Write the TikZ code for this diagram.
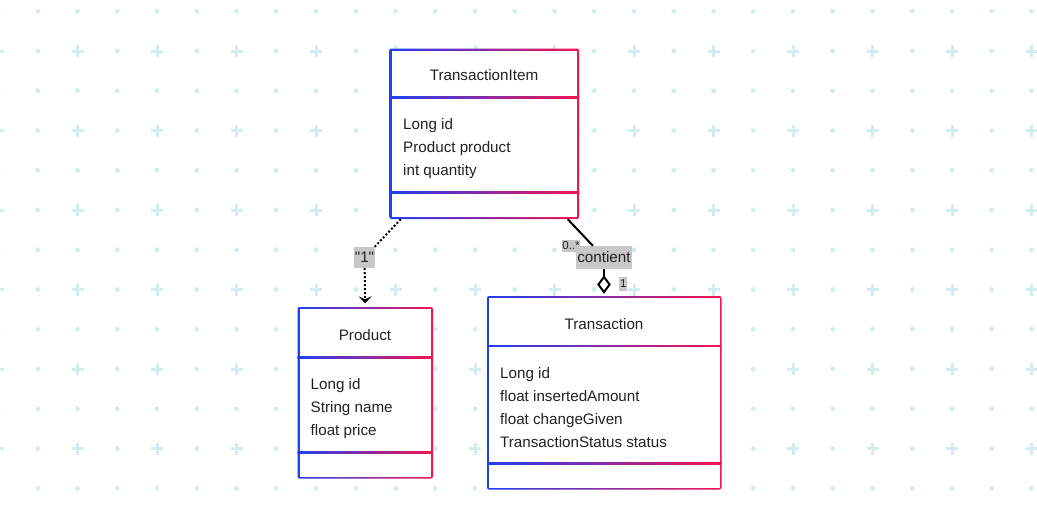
\documentclass[tikz,border=0pt]{standalone}
\usepackage{fontspec}
\setmainfont[Ligatures=TeXOff]{Liberation Sans}
\usetikzlibrary{arrows.meta,shapes.geometric,fit}
\definecolor{gb}{RGB}{30,64,245}
\definecolor{gr}{RGB}{245,20,80}
\definecolor{gridc}{RGB}{212,236,240}
\definecolor{txt}{RGB}{34,34,34}
\definecolor{lbl}{RGB}{200,200,200}
\tikzset{
  boxframe/.style={inner sep=0pt},
  titletext/.style={anchor=base,font=\fontsize{15.2}{18}\selectfont,text=txt,inner sep=0pt},
  attrtext/.style={anchor=base west,font=\fontsize{15.2}{18}\selectfont,text=txt,inner sep=0pt},
  edgelabel/.style={fill=lbl,text=txt,font=\fontsize{15.2}{18}\selectfont,inner xsep=1pt,inner ysep=0pt,minimum height=21pt},
  smalllabel/.style={fill=lbl,text=txt,font=\fontsize{11.5}{13}\selectfont,inner xsep=0.8pt,inner ysep=0pt,minimum height=12pt},
  depline/.style={line width=2pt,dash pattern=on 2pt off 2pt,draw=black},
  assocline/.style={line width=2pt,draw=black},
}
% #1 name, #2 x1, #3 y1, #4 x2, #5 y2, #6 divider1 y, #7 divider2 y
\newcommand{\umlbox}[7]{%
  \node[boxframe,fit={(#2,#3)(#4,#5)}] (#1) {};
  \shade[left color=gb,right color=gr,rounded corners=2pt] (#2,#3) rectangle (#4,#5);
  \fill[white] ({#2+2},{#3+2}) rectangle ({#4-2},{#5-2});
  \shade[left color=gb,right color=gr] (#2,{#6-0.9}) rectangle (#4,{#6+0.9});
  \shade[left color=gb,right color=gr] (#2,{#7-0.9}) rectangle (#4,{#7+0.9});
}
\begin{document}
\begin{tikzpicture}[x=1pt,y=-1pt]
\useasboundingbox (0,0) rectangle (1037,517);
\fill[white] (0,0) rectangle (1037,517);
% background grid
\foreach \i in {0,...,26}{
  \foreach \j in {0,...,12}{
    \pgfmathsetmacro{\gx}{-2+39.75*\i}
    \pgfmathsetmacro{\gy}{11.3+39.75*\j}
    \pgfmathtruncatemacro{\ie}{mod(\i,2)}
    \pgfmathtruncatemacro{\jo}{mod(\j,2)}
    \ifnum\ie=0 \ifnum\jo=1
      \fill[gridc] ({\gx-6},{\gy-1.5}) rectangle ({\gx+6},{\gy+1.5});
      \fill[gridc] ({\gx-1.5},{\gy-6}) rectangle ({\gx+1.5},{\gy+6});
    \else
      \fill[gridc] (\gx,\gy) circle (2.4);
    \fi\else
      \fill[gridc] (\gx,\gy) circle (2.4);
    \fi
  }
}
% boxes
\umlbox{ti}{389.5}{48.5}{579}{219}{97.5}{192.5}
\umlbox{prod}{297.5}{307}{433}{478.5}{357.5}{452.5}
\umlbox{tr}{487}{296}{721.5}{489.5}{346}{463.5}
% TransactionItem texts
\node[titletext] (tit) at (484,80) {TransactionItem};
\node[attrtext] (tia1) at (403,129) {Long id};
\node[attrtext] (tia2) at (403,152) {Product product};
\node[attrtext] (tia3) at (403,175) {int quantity};
% Product texts
\node[titletext] (prt) at (365,340) {Product};
\node[attrtext] (pra1) at (310.5,389) {Long id};
\node[attrtext] (pra2) at (310.5,412) {String name};
\node[attrtext] (pra3) at (310.5,435) {float price};
% Transaction texts
\node[titletext] (trt) at (604,329) {Transaction};
\node[attrtext] (tra1) at (500,378) {Long id};
\node[attrtext] (tra2) at (500,401) {float insertedAmount};
\node[attrtext] (tra3) at (500,424) {float changeGiven};
\node[attrtext] (tra4) at (500,447) {TransactionStatus status};
% dependency TransactionItem -> Product
\coordinate (d0) at ([xshift=11.5pt]ti.south west);
\node[edgelabel] (l1) at (364.5,257.5) {"1"};
\draw[depline] (d0) -- (l1);
\draw[depline,-{Stealth[length=7pt,width=13pt,inset=3pt]},shorten >=3.5pt] (l1) -- (prod.north);
% association TransactionItem -- Transaction
\coordinate (a0) at ([xshift=-11.5pt]ti.south east);
\node[edgelabel,inner xsep=1pt,minimum height=23pt] (l2) at (604,257.5) {contient};
\node[diamond,draw=black,line width=2pt,fill=white,inner sep=0pt,minimum width=12pt,minimum height=16pt] (dm) at (604,284.5) {};
\draw[assocline] (a0) -- (l2);
\draw[assocline] (l2) -- (dm);
\node[smalllabel] (m1) at (571,246) {0..*};
\node[smalllabel,minimum height=13.5pt] (m2) at (623.3,284) {1};
\end{tikzpicture}
\end{document}
